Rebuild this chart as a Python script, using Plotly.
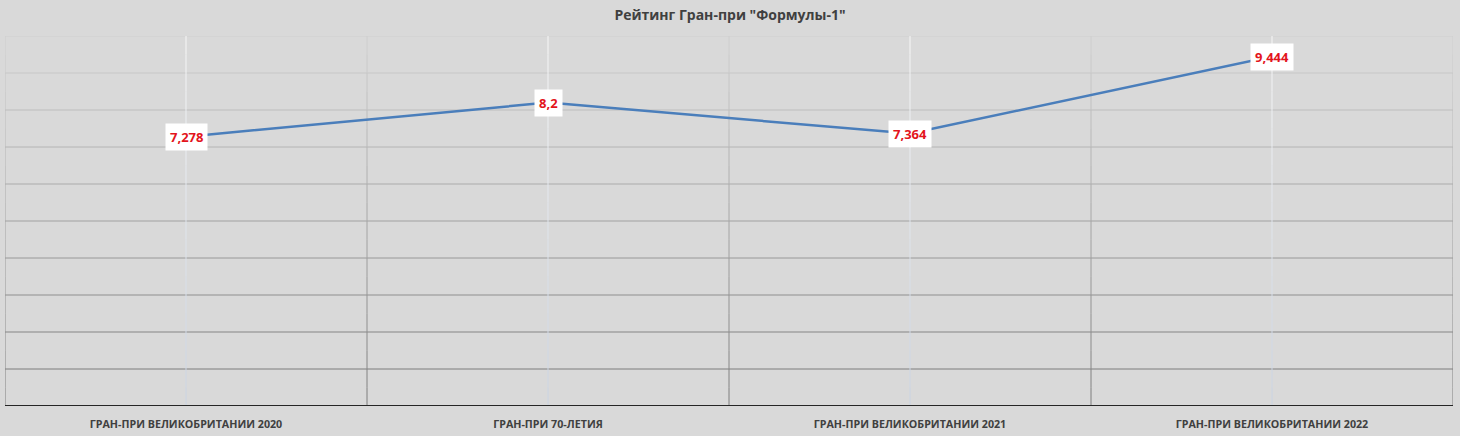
import plotly.graph_objects as go

categories = ["ГРАН-ПРИ ВЕЛИКОБРИТАНИИ 2020", "ГРАН-ПРИ 70-ЛЕТИЯ",
              "ГРАН-ПРИ ВЕЛИКОБРИТАНИИ 2021", "ГРАН-ПРИ ВЕЛИКОБРИТАНИИ 2022"]
ratings = [7.278, 8.2, 7.364, 9.444]
rating_labels = ["7,278", "8,2", "7,364", "9,444"]
grid_values = list(range(1, 11))
title = 'Рейтинг Гран-при "Формулы-1"'

BG = "#d9d9d9"
Y_MAX = 10


def mix(c1, c2, t):
    a = [int(c1[i:i + 2], 16) for i in (1, 3, 5)]
    b = [int(c2[i:i + 2], 16) for i in (1, 3, 5)]
    return "#%02x%02x%02x" % tuple(round(a[k] + (b[k] - a[k]) * t) for k in range(3))


TOP_GRID = "#d0d0d0"
BOT_GRID = "#7c7c7c"
TOP_CENTER = "#f8f8f8"
BOT_CENTER = "#c9d3e2"

fig = go.Figure()

shapes = []
# horizontal gridlines (gradient darker toward the bottom)
for v in grid_values:
    t = (Y_MAX - v) / (Y_MAX - 1)
    shapes.append(dict(type="line", xref="x", yref="y", x0=-0.5, x1=len(categories) - 0.5,
                       y0=v, y1=v, line=dict(color=mix(TOP_GRID, BOT_GRID, t), width=1),
                       layer="below"))

# vertical lines at category boundaries and borders, drawn in segments for gradient
n_seg = 20
for i in range(len(categories) + 1):
    xb = i - 0.5
    for s in range(n_seg):
        y_top = Y_MAX - s * Y_MAX / n_seg
        y_bot = Y_MAX - (s + 1) * Y_MAX / n_seg
        t = (s + 0.5) / n_seg
        shapes.append(dict(type="line", xref="x", yref="y", x0=xb, x1=xb, y0=y_top, y1=y_bot,
                           line=dict(color=mix(TOP_GRID, BOT_GRID, t), width=1), layer="below"))
# vertical lines at category centers
for i in range(len(categories)):
    for s in range(n_seg):
        y_top = Y_MAX - s * Y_MAX / n_seg
        y_bot = Y_MAX - (s + 1) * Y_MAX / n_seg
        t = (s + 0.5) / n_seg
        shapes.append(dict(type="line", xref="x", yref="y", x0=i, x1=i, y0=y_top, y1=y_bot,
                           line=dict(color=mix(TOP_CENTER, BOT_CENTER, t), width=1), layer="below"))
# bottom axis line
shapes.append(dict(type="line", xref="x", yref="y", x0=-0.5, x1=len(categories) - 0.5,
                   y0=0, y1=0, line=dict(color="#262626", width=2)))

fig.add_trace(go.Scatter(
    x=categories, y=ratings, mode="lines",
    line=dict(color="#4a7ebb", width=2.5),
    hoverinfo="skip", showlegend=False,
))

annotations = []
for c, v, lab in zip(categories, ratings, rating_labels):
    annotations.append(dict(x=c, y=v, xref="x", yref="y", text="<b>%s</b>" % lab,
                            showarrow=False, bgcolor="#ffffff", borderpad=4,
                            font=dict(family="Open Sans", size=13, color="#e3141c")))

fig.update_layout(
    width=1460, height=436,
    paper_bgcolor=BG, plot_bgcolor=BG,
    margin=dict(l=5, r=7, t=36, b=30),
    title=dict(text="<b>%s</b>" % title, x=0.5, xanchor="center", y=0.965, yanchor="middle",
               font=dict(family="Open Sans", size=14, color="#404040")),
    xaxis=dict(type="category", range=[-0.5, len(categories) - 0.5], showgrid=False,
               zeroline=False, showline=False, ticks="outside", ticklen=8, tickcolor=BG,
               tickwidth=0,
               tickfont=dict(family="Open Sans", size=10.7, color="#404040"),
               tickprefix="<b>", ticksuffix="</b>"),
    yaxis=dict(range=[0, Y_MAX], showgrid=False, zeroline=False, showline=False,
               showticklabels=False, ticks=""),
    shapes=shapes,
    annotations=annotations,
)

fig.write_html("out.html", config={"displayModeBar": False},
               post_script="document.body.style.margin='0';document.body.style.padding='0';")
